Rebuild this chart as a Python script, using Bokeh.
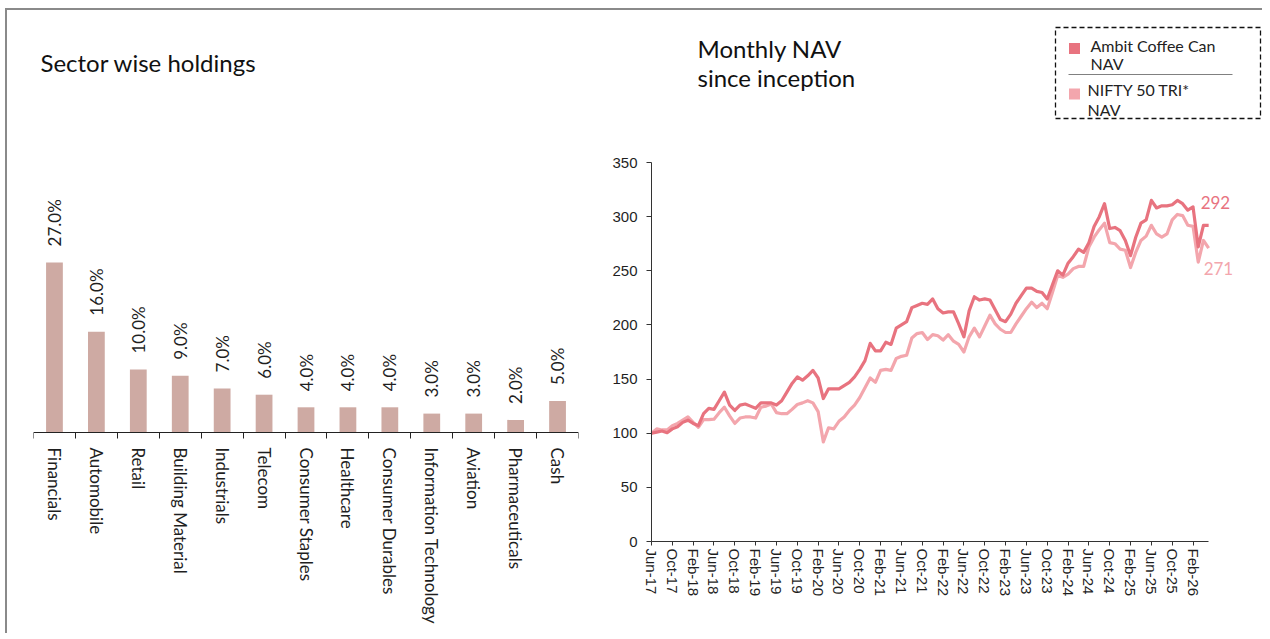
import numpy as np
from bokeh.plotting import figure
from bokeh.layouts import row
from bokeh.models import Range1d, FixedTicker, Label, BoxAnnotation
from bokeh.core.properties import value
from bokeh.embed import file_html
from bokeh.resources import INLINE

# ---------------- data ----------------
sectors = ["Financials", "Automobile", "Retail", "Building Material", "Industrials",
           "Telecom", "Consumer Staples", "Healthcare", "Consumer Durables",
           "Information Technology", "Aviation", "Pharmaceuticals", "Cash"]
weights = [27.0, 16.0, 10.0, 9.0, 7.0, 6.0, 4.0, 4.0, 4.0, 3.0, 3.0, 2.0, 5.0]

tick_labels = ["Jun-17", "Oct-17", "Feb-18", "Jun-18", "Oct-18", "Feb-19", "Jun-19",
               "Oct-19", "Feb-20", "Jun-20", "Oct-20", "Feb-21", "Jun-21", "Oct-21",
               "Feb-22", "Jun-22", "Oct-22", "Feb-23", "Jun-23", "Oct-23", "Feb-24",
               "Jun-24", "Oct-24", "Feb-25", "Jun-25", "Oct-25", "Feb-26"]

# monthly NAV, Jun-17 .. May-26 (rebased to 100)
ambit_nav = [100, 101, 102, 100.5, 104, 106, 110, 112, 109, 107,
             118, 123, 122, 130, 138, 126, 121, 126, 127, 125,
             123, 128, 128, 128, 126, 130, 138, 146, 152, 149,
             153, 158, 151, 132, 141, 141, 141, 144, 147, 152,
             159, 167, 183, 176, 176, 184, 182, 197, 200, 203,
             216, 218, 220, 219, 224, 215, 211, 212, 212, 201,
             189, 213, 226, 223, 224, 223, 214, 205, 203, 210,
             220, 227, 234, 234, 231, 230, 224, 237, 250, 246,
             257, 263, 270, 267, 276, 291, 300, 312, 289, 290,
             287, 278, 264, 281, 294, 297, 315, 308, 310, 310,
             311, 315, 312, 306, 309, 272, 292, 292]
nifty_nav = [100, 104, 103, 103, 107, 109, 112, 115, 110, 105.5,
             112.6, 112.6, 113, 119, 124, 116, 109, 114, 115, 115,
             114, 124, 125, 127, 119, 118, 118, 122, 126.5, 128,
             130, 128, 120, 92, 105, 104, 111, 115, 121, 126,
             133, 142, 151, 147, 158, 159, 158, 169, 171, 172,
             188, 192, 193, 186.5, 191, 190, 186, 191, 185, 182,
             175, 189, 197, 189, 199, 209, 201, 196, 193, 193,
             201, 208, 215, 221, 216, 220, 215, 230, 245.6, 244,
             247, 252, 254, 254, 272, 281, 288, 294, 276, 275,
             270, 269, 253, 267, 278, 282, 292, 284, 281, 284,
             297, 302, 301, 292, 291, 258, 278, 271]

series_names = ["Ambit Coffee Can", "NIFTY 50 TRI*"]

# ---------------- styles ----------------
BAR = "#CEAAA3"
C_AMBIT = "#E8737F"
C_NIFTY = "#F3A6AD"
TXT = "#1f1f1f"
HEAD_FONT = "Lato"
TICK_FONT = "Liberation Sans"

PAGE_X0, PAGE_Y0 = 7, 10          # where the canvases start on the page
H = 623
MT, MB = 10, 0                    # shared top / bottom borders (frames aligned)
FRAME_TOP = PAGE_Y0 + MT
FRAME_BOTTOM = PAGE_Y0 + H - MB

# ---------------- left: sector bars ----------------
L_W = 593
L_ML, L_MR = 26, 22
l_fw = L_W - L_ML - L_MR
AXIS_Y_L = 432                    # page y of the bar baseline
px_per_pct = 6.3
n = len(sectors)
p1 = figure(width=L_W, height=H, output_backend="svg", toolbar_location=None,
            x_range=Range1d(-0.5, n - 0.5),
            y_range=Range1d(-(FRAME_BOTTOM - AXIS_Y_L) / px_per_pct,
                            (AXIS_Y_L - FRAME_TOP) / px_per_pct),
            min_border_left=L_ML, min_border_right=L_MR, min_border_top=MT,
            min_border_bottom=MB)
p1.outline_line_color = None
p1.grid.visible = False
p1.yaxis.visible = False

idx = list(range(n))
p1.vbar(x=idx, top=weights, width=0.4, fill_color=BAR, line_color=None)
p1.text(x=idx, y=weights, text=[f"{w:.1f}%" for w in weights], angle=np.pi / 2,
        text_align="left", text_baseline="middle", y_offset=-16,
        text_font=value(HEAD_FONT), text_font_size="17px", text_color=TXT)

xa = p1.xaxis[0]
xa.fixed_location = 0
xa.ticker = FixedTicker(ticks=idx, minor_ticks=[i - 0.5 for i in range(n + 1)])
xa.major_label_overrides = {i: s for i, s in enumerate(sectors)}
xa.major_label_orientation = "vertical"
xa.major_tick_line_color = None
xa.major_tick_out = 0
xa.major_tick_in = 0
xa.minor_tick_out = 6
xa.minor_tick_in = 0
xa.minor_tick_line_color = "#222222"
xa.axis_line_color = "#222222"
xa.major_label_standoff = 9
xa.major_label_text_font = HEAD_FONT
xa.major_label_text_font_size = "17px"
xa.major_label_text_color = TXT

L_FRAME_LEFT = PAGE_X0 + L_ML

def lx(px):
    return (px - L_FRAME_LEFT) / l_fw * n - 0.5

def ly(py):
    return (AXIS_Y_L - py) / px_per_pct

p1.add_layout(Label(x=lx(40), y=ly(62), text="Sector wise holdings",
                    text_font=HEAD_FONT, text_font_size="24px", text_color="#111111",
                    text_baseline="alphabetic"))

# ---------------- right: monthly NAV ----------------
R_W = 662
R_FRAME_LEFT = PAGE_X0 + L_W
R_FRAME_RIGHT = R_FRAME_LEFT + R_W
AXIS_X_R = 651                    # page x of the value axis
AXIS_Y_R = 541                    # page y of the date axis
px_per_month = 5.207
px_per_unit = 379.0 / 350.0
p2 = figure(width=R_W, height=H, output_backend="svg", toolbar_location=None,
            x_range=Range1d(-(AXIS_X_R - R_FRAME_LEFT) / px_per_month,
                            (R_FRAME_RIGHT - AXIS_X_R) / px_per_month),
            y_range=Range1d(-(FRAME_BOTTOM - AXIS_Y_R) / px_per_unit,
                            (AXIS_Y_R - FRAME_TOP) / px_per_unit),
            min_border_left=0, min_border_right=0, min_border_top=MT,
            min_border_bottom=MB)
p2.outline_line_color = None
p2.grid.visible = False

months = list(range(len(ambit_nav)))
p2.line(months, nifty_nav, line_color=C_NIFTY, line_width=3.2, line_join="round")
p2.line(months, ambit_nav, line_color=C_AMBIT, line_width=3.2, line_join="round")

p2.text(x=[months[-1]], y=[ambit_nav[-1]], text=[f"{ambit_nav[-1]:.0f}"],
        x_offset=-8, y_offset=-23, text_align="left", text_baseline="middle",
        text_font=value(HEAD_FONT), text_font_size="17px", text_color=C_AMBIT)
p2.text(x=[months[-1]], y=[nifty_nav[-1]], text=[f"{nifty_nav[-1]:.0f}"],
        x_offset=-5, y_offset=20, text_align="left", text_baseline="middle",
        text_font=value(HEAD_FONT), text_font_size="17px", text_color=C_NIFTY)

bx = p2.xaxis[0]
bx.fixed_location = 0
bx.ticker = FixedTicker(ticks=[4 * i for i in range(len(tick_labels))])
bx.major_label_overrides = {4 * i: s for i, s in enumerate(tick_labels)}
bx.major_label_orientation = "vertical"
bx.bounds = (0, months[-1])
bx.minor_tick_line_color = None
bx.major_tick_out = 4
bx.major_tick_in = 0
bx.major_label_standoff = 3
bx.axis_line_color = "#333333"
bx.major_tick_line_color = "#333333"
bx.major_label_text_font = TICK_FONT
bx.major_label_text_font_size = "15px"
bx.major_label_text_color = TXT

ly2 = p2.yaxis[0]
ly2.fixed_location = 0
ly2.ticker = FixedTicker(ticks=[0, 50, 100, 150, 200, 250, 300, 350])
ly2.bounds = (0, 350)
ly2.minor_tick_line_color = None
ly2.major_tick_out = 5
ly2.major_tick_in = 0
ly2.major_label_standoff = 9
ly2.axis_line_color = "#333333"
ly2.major_tick_line_color = "#333333"
ly2.major_label_text_font = TICK_FONT
ly2.major_label_text_font_size = "15px"
ly2.major_label_text_color = TXT

def rx(px):
    return (px - AXIS_X_R) / px_per_month

def ry(py):
    return (AXIS_Y_R - py) / px_per_unit

for txt, py in [("Monthly NAV", 48), ("since inception", 77)]:
    p2.add_layout(Label(x=rx(697), y=ry(py), text=txt, text_font=HEAD_FONT,
                        text_font_size="24px", text_color="#111111",
                        text_baseline="alphabetic"))

# legend
p2.add_layout(BoxAnnotation(left=rx(1055), right=rx(1260), top=ry(27), bottom=ry(118),
                            fill_color=None, fill_alpha=0, line_color="#111111",
                            line_alpha=1.0, line_width=1.3, line_dash="5 3"))
p2.segment(x0=[rx(1068)], y0=[ry(74)], x1=[rx(1232)], y1=[ry(74)],
           line_color="#808080", line_width=1)
p2.scatter(x=[rx(1074), rx(1074)], y=[ry(48), ry(93.5)], marker="square", size=11,
           fill_color=[C_AMBIT, C_NIFTY], line_color=None)
for txt, px, py in [(series_names[0], 1090, 45), ("NAV", 1090, 63),
                    (series_names[1], 1087, 89), ("NAV", 1087, 109)]:
    p2.add_layout(Label(x=rx(px), y=ry(py), text=txt, text_font=HEAD_FONT,
                        text_font_size="16px", text_color="#222222",
                        text_baseline="middle"))

layout = row(p1, p2, styles={"border-left": "2px solid #8a8a8a",
                             "border-top": "2px solid #8a8a8a",
                             "margin-left": "5px", "margin-top": "8px"})

open("out.html", "w").write(file_html(layout, INLINE))
